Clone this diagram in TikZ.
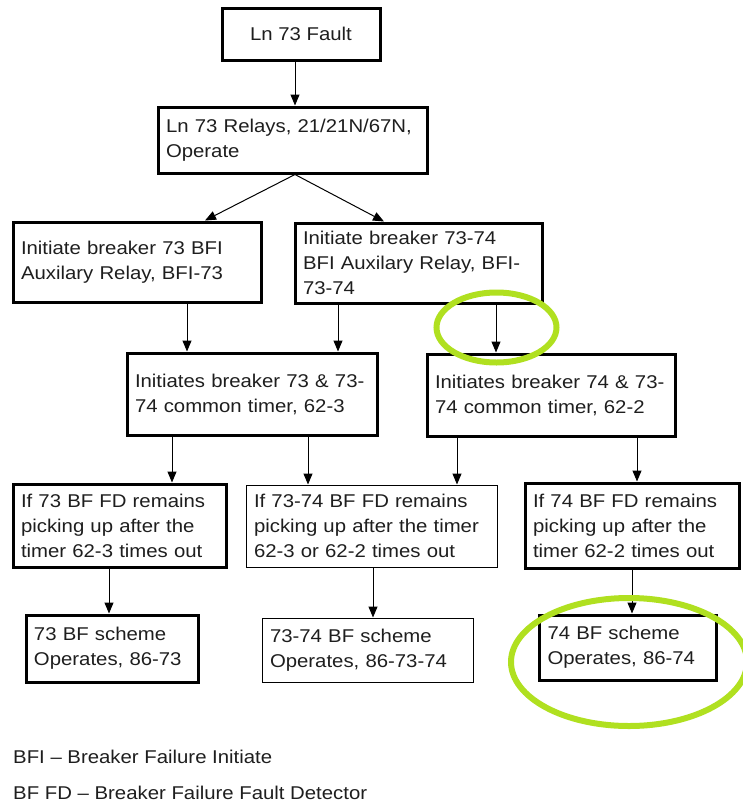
\documentclass[tikz,border=0pt]{standalone}
\usepackage{fontspec}
\setmainfont{Liberation Sans}[FakeStretch=1.1]
\usetikzlibrary{arrows.meta}
\definecolor{hl}{RGB}{176,224,32}
\definecolor{ink}{RGB}{30,30,30}
\tikzset{
  x=1pt, y=-1pt,
  txt/.style={font=\fontsize{18.5pt}{25pt}\selectfont, text=ink},
  box/.style={txt, draw=black, line width=3pt, inner xsep=8pt, inner ysep=0pt, align=left},
  thinbox/.style={box, line width=1pt},
  arr/.style={draw=black, line width=1pt, -{Triangle[length=11pt,width=9pt]}},
  ring/.style={draw=hl, line width=6pt}
}
\begin{document}
\begin{tikzpicture}
\useasboundingbox (0,0) rectangle (743,806);
% row 1
\node[box, align=center, minimum width=158pt, minimum height=52pt] (b1) at (301,34) {Ln 73 Fault};
\node[box, minimum width=269pt, minimum height=66pt, text width=253pt] (b2) at (292.5,140) {Ln 73 Relays, 21/21N/67N,\\Operate};
% row 2
\node[box, minimum width=248pt, minimum height=80pt, text width=232pt] (b3) at (137,262) {Initiate breaker 73 BFI\\Auxilary Relay, BFI-73};
\node[box, minimum width=247pt, minimum height=80pt, text width=231pt] (b4) at (418.5,263) {Initiate breaker 73-74\\BFI Auxilary Relay, BFI-\\73-74};
% row 3
\node[box, minimum width=250pt, minimum height=82pt, text width=234pt] (b5) at (252,394) {Initiates breaker 73 \& 73-\\74 common timer, 62-3};
\node[box, minimum width=248pt, minimum height=82pt, text width=232pt] (b6) at (551,395) {Initiates breaker 74 \& 73-\\74 common timer, 62-2};
% row 4
\node[box, minimum width=213pt, minimum height=83pt, text width=197pt] (b7) at (119.5,525.5) {If 73 BF FD remains\\picking up after the\\timer 62-3 times out};
\node[thinbox, minimum width=251pt, minimum height=82pt, text width=235pt] (b8) at (371.5,526) {If 73-74 BF FD remains\\picking up after the timer\\62-3 or 62-2 times out};
\node[box, minimum width=214pt, minimum height=85pt, text width=198pt] (b9) at (632,525.5) {If 74 BF FD remains\\picking up after the\\timer 62-2 times out};
% row 5
\node[box, minimum width=172pt, minimum height=67pt, text width=156pt] (b10) at (112,648.5) {73 BF scheme\\Operates, 86-73};
\node[thinbox, minimum width=211pt, minimum height=64pt, text width=195pt] (b11) at (367.5,650) {73-74 BF scheme\\Operates, 86-73-74};
\node[box, minimum width=177pt, minimum height=65pt, text width=161pt] (b12) at (628,647.5) {74 BF scheme\\Operates, 86-74};
% connectors
\draw[arr] (295,0 |- b1.south) -- (295,0 |- b2.north);
\coordinate (apex) at (295,0 |- b2.south);
\draw[arr] (apex) -- (205,0 |- b3.north);
\draw[arr] (apex) -- (384,0 |- b4.north);
\draw[arr] (187,0 |- b3.south) -- (187,0 |- b5.north);
\draw[arr] (338,0 |- b4.south) -- (338,0 |- b5.north);
\draw[arr] (496,0 |- b4.south) -- (496,0 |- b6.north);
\draw[arr] (172,0 |- b5.south) -- (172,0 |- b7.north);
\draw[arr] (308,0 |- b5.south) -- (308,0 |- b8.north);
\draw[arr] (457,0 |- b6.south) -- (457,0 |- b8.north);
\draw[arr] (637,0 |- b6.south) -- (637,0 |- b9.north);
\draw[arr] (109,0 |- b7.south) -- (109,0 |- b10.north);
\draw[arr] (373,0 |- b8.south) -- (373,0 |- b11.north);
\draw[arr] (632,0 |- b9.south) -- (632,0 |- b12.north);
% highlight rings
\draw[ring] (496.5,327.5) ellipse [x radius=60pt, y radius=35pt];
\draw[ring] (629,662) ellipse [x radius=118pt, y radius=64pt];
% legend
\node[txt, anchor=west, inner sep=0pt] (l1) at (13,757) {BFI – Breaker Failure Initiate};
\node[txt, anchor=west, inner sep=0pt] (l2) at (13,793) {BF FD – Breaker Failure Fault Detector};
\end{tikzpicture}
\end{document}
